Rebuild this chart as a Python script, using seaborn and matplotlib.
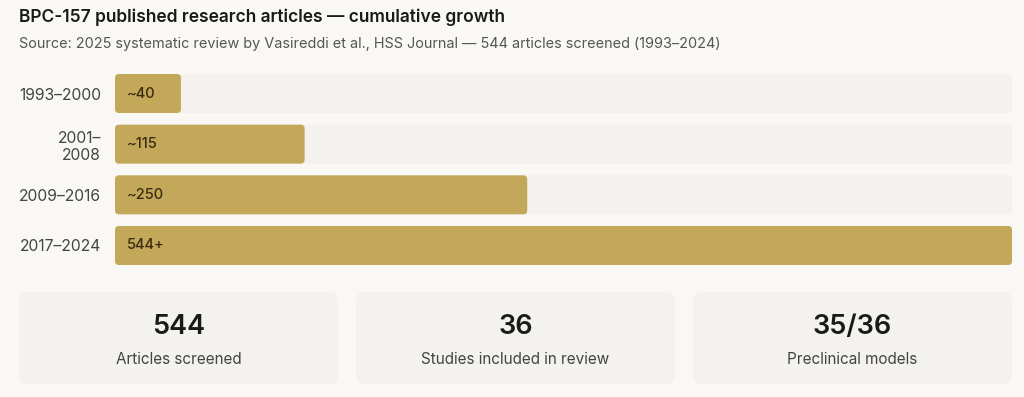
import matplotlib
matplotlib.use('Agg')
import matplotlib.pyplot as plt
from matplotlib.patches import FancyBboxPatch
import seaborn as sns

periods = ['1993–2000', '2001–\n2008', '2009–2016', '2017–2024']
articles = [40, 115, 250, 544]
bar_labels = ['~40', '~115', '~250', '544+']

stat_values = ['544', '36', '35/36']
stat_labels = ['Articles screened', 'Studies included in review', 'Preclinical models']

BG = '#f9f8f5'
TRACK = '#f3f2ee'
GOLD = '#c4a85a'

sns.set_style('white')
plt.rcParams['font.family'] = ['Inter', 'DejaVu Sans']

fig = plt.figure(figsize=(10.24, 3.97), dpi=100)
fig.patch.set_facecolor(BG)

W, H = 1024, 397
# bar area: x 115..1012 px, y 74..265 px
ax = fig.add_axes([115 / W, 1 - 265 / H, (1012 - 115) / W, (265 - 74) / H])
ax.set_facecolor(BG)

track = [max(articles)] * len(articles)
sns.barplot(x=track, y=periods, orient='h', color=TRACK, width=0.77, ax=ax, saturation=1)
sns.barplot(x=articles, y=periods, orient='h', color=GOLD, width=0.77, ax=ax, saturation=1)
ax.set_xlim(0, max(articles))
ax.set_ylim(3.385, -0.385)

# swap rectangles for rounded ones
px_x = 897 / max(articles)
px_y = 191 / 3.77
r = 4 / px_x
for p in list(ax.patches):
    x0, y0 = p.get_x(), p.get_y()
    w, h = p.get_width(), p.get_height()
    fb = FancyBboxPatch((x0, y0), w, h,
                        boxstyle=f'round,pad=0,rounding_size={r}',
                        mutation_aspect=px_x / px_y,
                        facecolor=p.get_facecolor(), edgecolor='none')
    p.remove()
    ax.add_patch(fb)

for i, lab in enumerate(bar_labels):
    ax.text(12 / px_x, i, lab, va='center', ha='left', fontsize=10.5,
            color='#3b2c10', fontweight='medium')

ax.set_xticks([])
ax.tick_params(axis='y', length=0, pad=10, labelsize=11.3, labelcolor='#444444')
ax.set_ylabel('')
sns.despine(ax=ax, left=True, bottom=True)

# overlay in pixel coords for title and stat cards
ov = fig.add_axes([0, 0, 1, 1], zorder=-1)
ov.set_xlim(0, W)
ov.set_ylim(H, 0)
ov.axis('off')
ov.patch.set_alpha(0)

fig.text(19 / W, 1 - 17 / H, 'BPC-157 published research articles — cumulative growth',
         fontsize=12.5, fontweight='semibold', color='#1a1a1a', va='center')
fig.text(19 / W, 1 - 44 / H,
         'Source: 2025 systematic review by Vasireddi et al., HSS Journal — 544 articles screened (1993–2024)',
         fontsize=10.4, color='#555555', va='center')

card_x = [19, 356, 693]
card_w, card_y, card_h = 319, 292, 92
for cx, val, lab in zip(card_x, stat_values, stat_labels):
    ov.add_patch(FancyBboxPatch((cx, card_y), card_w, card_h,
                                boxstyle='round,pad=0,rounding_size=9',
                                facecolor=TRACK, edgecolor='none'))
    fig.text((cx + card_w / 2) / W, 1 - 327 / H, val, ha='center', va='center',
             fontsize=19.5, fontweight='semibold', color='#1a1a1a')
    fig.text((cx + card_w / 2) / W, 1 - 359 / H, lab, ha='center', va='center',
             fontsize=11, color='#444444')

fig.savefig('out.png', dpi=100, facecolor=BG)
